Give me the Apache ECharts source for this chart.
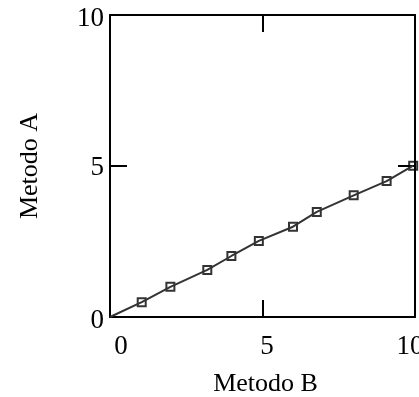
<!DOCTYPE html>
<html>
<head>
<meta charset="utf-8">
<script src="https://cdn.jsdelivr.net/npm/echarts@6/dist/echarts.min.js"></script>
<style>html,body{margin:0;padding:0;background:#fff;}#c{width:419px;height:397px;}</style>
</head>
<body>
<div id="c"></div>
<script>
var metodoB = [1.04, 1.98, 3.19, 3.98, 4.88, 6.0, 6.78, 7.99, 9.07, 9.94];
var metodoA = [0.49, 1.0, 1.56, 2.02, 2.52, 2.99, 3.48, 4.03, 4.5, 5.01];
var lineStart = [0, 0];
var xTickLabels = ['0', '5', '10'];
var yTickLabels = ['0', '5', '10'];

var pts = metodoB.map(function (b, i) { return [b, metodoA[i]]; });
var linePts = [lineStart].concat(pts);

var font = 'Liberation Serif';
var chart = echarts.init(document.getElementById('c'));
var axisCommon = {
  type: 'value', min: 0, max: 10, interval: 5,
  axisLine: { show: true, onZero: false, lineStyle: { color: '#000', width: 2 } },
  axisTick: { show: true, inside: true, length: 17, lineStyle: { color: '#000', width: 2 } },
  splitLine: { show: false }
};
var xPad = { '0': [0, 0, 0, 22], '5': [0, 0, 0, 9], '10': [0, 10, 0, 0] };
var yPad = { '0': [8, 0, 0, 0], '5': [4, 0, 0, 0], '10': [8, 0, 0, 0] };
var richX = {}, richY = {};
xTickLabels.forEach(function (t, i) { richX['l' + i] = { fontFamily: font, fontSize: 27, color: '#000', padding: xPad[t] }; });
yTickLabels.forEach(function (t, i) { richY['l' + i] = { fontFamily: font, fontSize: 27, color: '#000', padding: yPad[t] }; });

chart.setOption({
  animation: false,
  grid: { left: 110, top: 15, right: 4, bottom: 80, containLabel: false, outerBoundsMode: 'none' },
  xAxis: [
    Object.assign({}, axisCommon, {
      position: 'bottom',
      name: 'Metodo B', nameLocation: 'middle', nameGap: 54,
      nameTextStyle: { fontFamily: font, fontSize: 26, color: '#000', padding: [0, 0, 0, 6] },
      axisLabel: {
        show: true, margin: 16,
        formatter: function (v) { var i = xTickLabels.indexOf(String(v)); return '{l' + i + '|' + xTickLabels[i] + '}'; },
        rich: richX
      }
    }),
    Object.assign({}, axisCommon, { position: 'top', axisLabel: { show: false } })
  ],
  yAxis: [
    Object.assign({}, axisCommon, {
      position: 'left',
      name: 'Metodo A', nameLocation: 'middle', nameGap: 67,
      nameTextStyle: { fontFamily: font, fontSize: 26, color: '#000' },
      axisLabel: {
        show: true, margin: 6,
        formatter: function (v) { var i = yTickLabels.indexOf(String(v)); return '{l' + i + '|' + yTickLabels[i] + '}'; },
        rich: richY
      }
    }),
    Object.assign({}, axisCommon, { position: 'right', axisLabel: { show: false } })
  ],
  series: [
    {
      type: 'line', data: linePts, showSymbol: false, symbol: 'none',
      lineStyle: { color: '#333', width: 2 }, clip: false
    },
    {
      type: 'scatter', data: pts, symbol: 'rect', symbolSize: 8,
      itemStyle: { color: 'rgba(255,255,255,0)', borderColor: '#000', borderWidth: 2 }, clip: false
    }
  ]
});
</script>
</body>
</html>
